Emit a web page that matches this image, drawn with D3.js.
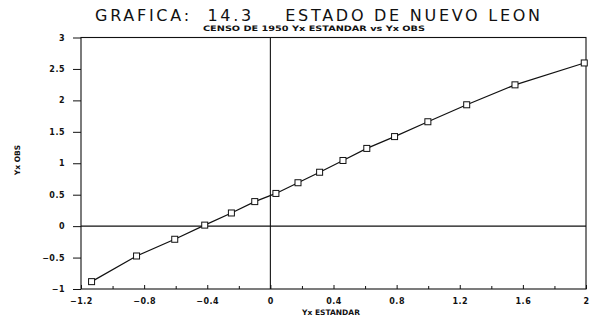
<!DOCTYPE html>
<html><head><meta charset="utf-8">
<script src="https://cdn.jsdelivr.net/npm/d3@7"></script>
<style>body{margin:0;background:#fff}svg{display:block}</style>
</head><body>
<svg id="c" width="592" height="324"></svg>
<script>
const xStd = [-1.133,-0.848,-0.606,-0.416,-0.247,-0.099,0.035,0.175,0.312,0.46,0.611,0.787,0.998,1.244,1.55,1.989];
const yObs = [-0.883,-0.475,-0.209,0.016,0.209,0.39,0.52,0.69,0.857,1.044,1.236,1.424,1.66,1.93,2.247,2.595];
const xTickVals = [-1.2,-0.8,-0.4,0,0.4,0.8,1.2,1.6,2];
const xTickLabels = ["\u22121.2","\u22120.8","\u22120.4","0","0.4","0.8","1.2","1.6","2"];
const yTickVals = [-1,-0.5,0,0.5,1,1.5,2,2.5,3];
const yTickLabels = ["\u22121","\u22120.5","0","0.5","1","1.5","2","2.5","3"];
const title = "GRAFICA:  14.3    ESTADO DE NUEVO LEON";
const subtitle = "CENSO DE 1950 Yx ESTANDAR vs Yx OBS";
const xLabel = "Yx ESTANDAR", yLabel = "Yx OBS";

const svg = d3.select("#c");
const L=81, R=586, T=37.5, B=289;
const x = d3.scaleLinear().domain([-1.2,2]).range([L,R]);
const y = d3.scaleLinear().domain([-1,3]).range([B,T]);
const font = "'DejaVu Sans', sans-serif";

// title
svg.append("text").attr("x",95).attr("y",21).attr("textLength",445).attr("lengthAdjust","spacing")
  .style("white-space","pre").attr("font-family","'DejaVu Sans', sans-serif").attr("font-size",16)
  .attr("fill","#111").text(title);
svg.append("text").attr("x",203).attr("y",31).attr("textLength",222).attr("lengthAdjust","spacingAndGlyphs")
  .attr("font-family",font).attr("font-weight","bold").attr("font-size",7.5).attr("fill","#111").text(subtitle);

// frame
svg.append("rect").attr("x",L).attr("y",T).attr("width",R-L).attr("height",B-T)
  .attr("fill","none").attr("stroke","#111").attr("stroke-width",1.1);

// zero lines
svg.append("line").attr("x1",x(0)).attr("x2",x(0)).attr("y1",T).attr("y2",B).attr("stroke","#111").attr("stroke-width",1.1);
svg.append("line").attr("x1",L).attr("x2",R).attr("y1",y(0)).attr("y2",y(0)).attr("stroke","#111").attr("stroke-width",1.1);

// x axis
const xAxis = d3.axisBottom(x).tickValues(xTickVals).tickFormat((d,i)=>xTickLabels[i]).tickSizeInner(-4).tickSizeOuter(0).tickPadding(9);
const gx = svg.append("g").attr("transform",`translate(0,${B})`).call(xAxis);
gx.select(".domain").remove();
const xMinor = d3.axisBottom(x).tickValues(d3.range(-1.0,2,0.4)).tickFormat("").tickSizeInner(-3).tickSizeOuter(0);
const gxm = svg.append("g").attr("transform",`translate(0,${B})`).call(xMinor);
gxm.select(".domain").remove();

// y axis
const yAxis = d3.axisLeft(y).tickValues(yTickVals).tickFormat((d,i)=>yTickLabels[i]).tickSizeInner(8).tickSizeOuter(0).tickPadding(8);
const gy = svg.append("g").attr("transform",`translate(${L},0)`).call(yAxis);
gy.select(".domain").remove();
[gx,gxm,gy].forEach(g=>{
  g.selectAll("line").attr("stroke","#111").attr("stroke-width",1);
  g.selectAll("text").attr("font-family",font).attr("font-weight","bold").attr("font-size",8).attr("fill","#111").attr("letter-spacing",0.5);
});

// axis labels
svg.append("text").attr("x",331).attr("y",315).attr("text-anchor","middle").attr("font-family",font)
  .attr("font-weight","bold").attr("font-size",7.5).attr("fill","#111").text(xLabel);
svg.append("text").attr("transform","translate(20,160) rotate(-90)").attr("text-anchor","middle").attr("font-family",font)
  .attr("font-weight","bold").attr("font-size",7.5).attr("fill","#111").text(yLabel);

// data
const pts = xStd.map((v,i)=>[v,yObs[i]]);
svg.append("path").datum(pts).attr("fill","none").attr("stroke","#111").attr("stroke-width",1.2)
  .attr("d",d3.line().x(d=>x(d[0])).y(d=>y(d[1])));
svg.selectAll("rect.m").data(pts).enter().append("rect").attr("class","m")
  .attr("x",d=>x(d[0])-3).attr("y",d=>y(d[1])-3).attr("width",6).attr("height",6)
  .attr("fill","#fff").attr("stroke","#111").attr("stroke-width",1);
</script>
</body></html>
